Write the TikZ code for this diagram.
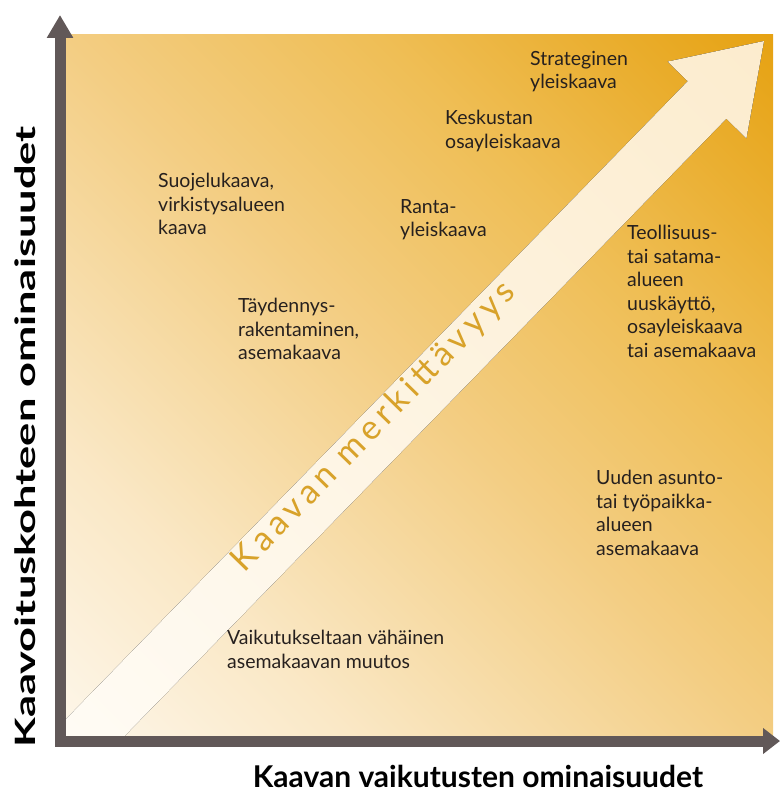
\documentclass[tikz,border=0pt]{standalone}
\usepackage{fontspec}
\setmainfont{Lato}
\usetikzlibrary{arrows.meta}

\definecolor{axisgray}{RGB}{97,88,88}
\definecolor{labelink}{RGB}{38,32,30}
\definecolor{bandtext}{RGB}{216,162,42}
\definecolor{bgA}{RGB}{253,246,233}
\definecolor{bgB}{RGB}{250,232,198}
\definecolor{bgC}{RGB}{243,205,130}
\definecolor{bgD}{RGB}{239,190,85}
\definecolor{bgE}{RGB}{230,162,18}
\definecolor{bandA}{RGB}{255,252,246}
\definecolor{bandB}{RGB}{252,236,206}

\pgfdeclarehorizontalshading{bgdiag}{100bp}{color(0bp)=(bgA); color(14.6bp)=(bgA); color(28.8bp)=(bgB); color(50bp)=(bgC); color(65.6bp)=(bgD); color(85.4bp)=(bgE); color(100bp)=(bgE)}
\pgfdeclarehorizontalshading{banddiag}{100bp}{color(0bp)=(bandA); color(14.6bp)=(bandA); color(85.4bp)=(bandB); color(100bp)=(bandB)}

\tikzset{
  lbl/.style={anchor=north west, inner sep=0pt, align=left, text=labelink,
    font=\fontsize{19.5}{23.5}\selectfont},
  axislbl/.style={anchor=base, inner sep=0pt, text=black, font=\bfseries},
}

\begin{document}
\begin{tikzpicture}[x=1pt,y=-1pt]
    \useasboundingbox (0,0) rectangle (780,789);

    % Background
    \fill[shading=bgdiag, shading angle=45] (65,35) rectangle (773,735);

    % Big arrow
    \begin{scope}
        \clip (65,35) rectangle (773,735);
        \fill[shading=banddiag, shading angle=45] (40.8,744.8) -- (687.7,81.2) -- (667.6,61.6)
            -- (764,41) -- (746.4,138.4) -- (726.3,118.8) -- (79.4,782.4) -- cycle;
    \end{scope}
    \node[rotate=45.7, text=bandtext, inner sep=0pt,
        font=\fontsize{34}{38}\selectfont\addfontfeatures{LetterSpace=15}] (merk) at (374,427) {Kaavan merkittävyys};

    % Axes
    \draw[axisgray, line width=11pt,
        {Triangle[length=23pt,width=25pt]}-{Triangle[length=17pt,width=25pt]}] (60,15) -- (60,741) -- (780,741);
    \node[axislbl, font=\fontsize{30}{34}\selectfont\bfseries] (xlabel) at (478,787) {Kaavan vaikutusten ominaisuudet};
    \node[axislbl, rotate=90, font=\fontsize{28}{32}\selectfont\bfseries] (ylabel) at (35,437)
        {\scalebox{1.55}[1]{Kaavoituskohteen ominaisuudet}};

    % Labels
    \node[lbl] (strat) at (530,51) {Strateginen\\yleiskaava};
    \node[lbl] (kesk) at (445,110) {Keskustan\\osayleiskaava};
    \node[lbl] (suoj) at (158,173) {Suojelukaava,\\virkistysalueen\\kaava};
    \node[lbl] (ranta) at (400,199) {Ranta-\\yleiskaava};
    \node[lbl] (teol) at (627,225) {Teollisuus-\\tai satama-\\alueen\\uuskäyttö,\\osayleiskaava\\tai asemakaava};
    \node[lbl] (tayd) at (238,298) {Täydennys-\\rakentaminen,\\asemakaava};
    \node[lbl] (uusi) at (596,470) {Uuden asunto-\\tai työpaikka-\\alueen\\asemakaava};
    \node[lbl] (vaik) at (227,630) {Vaikutukseltaan vähäinen\\asemakaavan muutos};
\end{tikzpicture}
\end{document}
